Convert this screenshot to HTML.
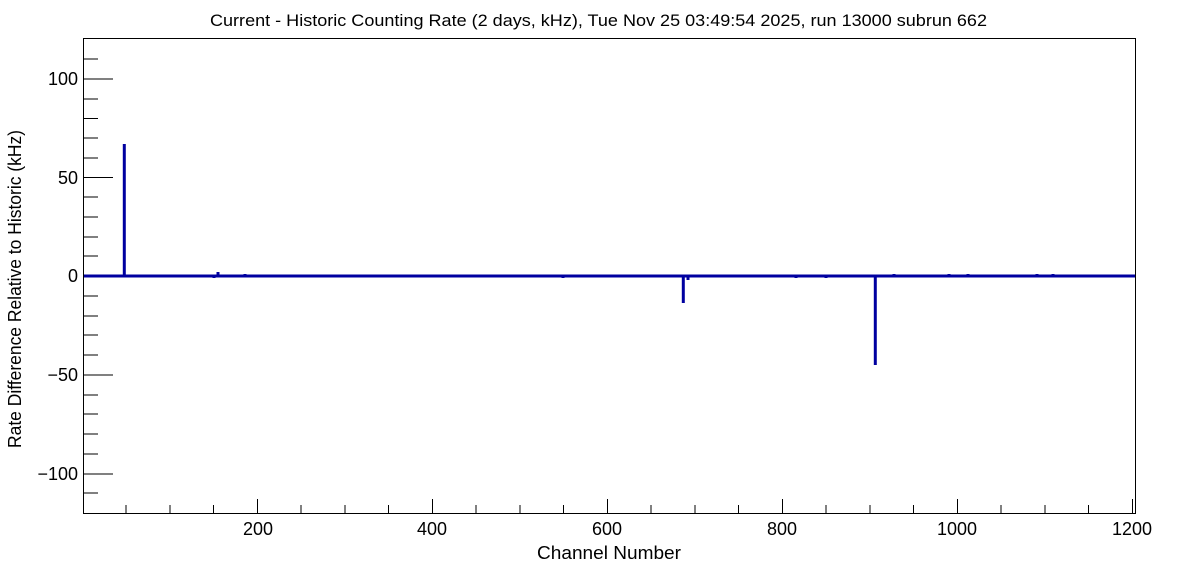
<!DOCTYPE html>
<html><head><style>
html,body{margin:0;padding:0;background:#fff;}
svg{display:block;font-family:"Liberation Sans",Arial,sans-serif;}
</style></head><body>
<svg width="1196" height="572" viewBox="0 0 1196 572" xmlns="http://www.w3.org/2000/svg">
<rect width="1196" height="572" fill="#fff"/>
<text x="210" y="26" font-size="17" textLength="777" lengthAdjust="spacingAndGlyphs" fill="#000">Current - Historic Counting Rate (2 days, kHz), Tue Nov 25 03:49:54 2025, run 13000 subrun 662</text>
<g stroke="#000" stroke-width="1" fill="none" shape-rendering="crispEdges">
<rect x="83.5" y="38.5" width="1052" height="475"/>
<path d="M83 79h30M83 177.5h30M83 276h30M83 375h30M83 474h30
M83 59h15M83 99h15M83 118.5h15M83 138h15M83 158h15M83 197h15M83 217h15M83 237h15M83 256h15
M83 296h15M83 316h15M83 335h15M83 355h15M83 395h15M83 414h15M83 434h15M83 454h15M83 493h15"/>
<path d="M257.3 514v-15M432.3 514v-15M607.3 514v-15M782.3 514v-15M957.3 514v-15M1132.3 514v-15
M126 514v-9M169.8 514v-9M213.5 514v-9M301 514v-9M344.8 514v-9M388.5 514v-9M476 514v-9M519.8 514v-9M563.5 514v-9M651 514v-9M694.8 514v-9M738.5 514v-9M826 514v-9M869.8 514v-9M913.5 514v-9M1001 514v-9M1044.8 514v-9M1088.5 514v-9"/>
</g>
<g font-size="18" fill="#000">
<text x="78" y="85" text-anchor="end">100</text>
<text x="78" y="184" text-anchor="end">50</text>
<text x="78" y="282" text-anchor="end">0</text>
<text x="78" y="381" text-anchor="end">−50</text>
<text x="78" y="480" text-anchor="end">−100</text>
<text x="258" y="535" text-anchor="middle">200</text>
<text x="432" y="535" text-anchor="middle">400</text>
<text x="607" y="535" text-anchor="middle">600</text>
<text x="782" y="535" text-anchor="middle">800</text>
<text x="957" y="535" text-anchor="middle">1000</text>
<text x="1132" y="535" text-anchor="middle">1200</text>
</g>
<text x="537" y="559" font-size="18" textLength="144" lengthAdjust="spacingAndGlyphs">Channel Number</text>
<text transform="translate(21,448) rotate(-90)" font-size="18" textLength="318" lengthAdjust="spacingAndGlyphs">Rate Difference Relative to Historic (kHz)</text>
<g stroke="#0000a0" stroke-width="3" fill="none">
<path d="M84 276H1135"/>
<path d="M124.3 276V144"/>
<path d="M218 276v-4M214 277v1M245 276v-2"/>
<path d="M563 276v2"/>
<path d="M683.3 276V303M688 276v4"/>
<path d="M796 276v2M826 276v2"/>
<path d="M875.3 276V365"/>
<path d="M894 276v-2M949 276v-2M968 276v-2M1037 276v-2M1053 276v-2"/>
</g>
</svg>
</body></html>
